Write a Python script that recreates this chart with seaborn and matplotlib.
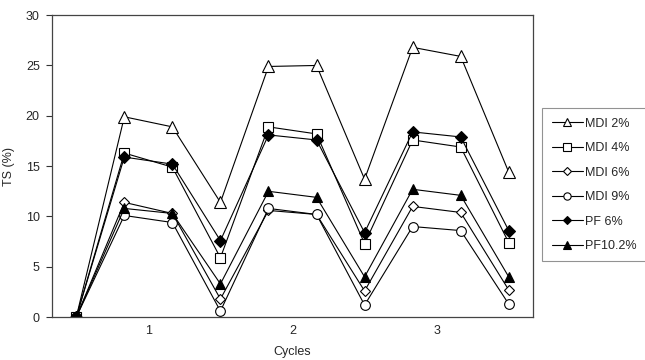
import pandas as pd
import numpy as np
import matplotlib.pyplot as plt
import seaborn as sns

# TS (%) after each step: start, then 3 readings per cycle
steps = [0, 1, 2, 3, 4, 5, 6, 7, 8, 9]
mdi_2 = [0, 19.9, 18.9, 11.4, 24.9, 25.0, 13.7, 26.8, 25.9, 14.4]
mdi_4 = [0, 16.3, 14.9, 5.9, 18.9, 18.2, 7.3, 17.6, 16.9, 7.4]
mdi_6 = [0, 11.4, 10.3, 1.8, 10.6, 10.2, 2.6, 11.0, 10.4, 2.7]
mdi_9 = [0, 10.1, 9.4, 0.6, 10.8, 10.2, 1.2, 9.0, 8.6, 1.3]
pf_6 = [0, 15.9, 15.2, 7.6, 18.1, 17.6, 8.4, 18.4, 17.9, 8.6]
pf_10 = [0, 10.8, 10.3, 3.3, 12.5, 11.9, 4.0, 12.7, 12.1, 4.0]
cycle_labels = ['1', '2', '3']

series = [
    ('MDI 2%', mdi_2, '^', 'white', 8),
    ('MDI 4%', mdi_4, 's', 'white', 7),
    ('MDI 6%', mdi_6, 'D', 'white', 5.5),
    ('MDI 9%', mdi_9, 'o', 'white', 7),
    ('PF 6%', pf_6, 'D', 'black', 6),
    ('PF10.2%', pf_10, '^', 'black', 7.5),
]

sns.set_style('white')
plt.rcParams['font.family'] = ['Liberation Sans', 'DejaVu Sans']

fig = plt.figure(figsize=(6.45, 3.6), dpi=100)
ax = fig.add_axes([0.081, 0.119, 0.745, 0.839])

for name, vals, mk, fc, ms in series:
    df = pd.DataFrame({'step': steps, 'TS': vals})
    sns.lineplot(data=df, x='step', y='TS', ax=ax, color='black', lw=0.8,
                 marker=mk, markersize=ms, markerfacecolor=fc,
                 markeredgecolor='black', markeredgewidth=0.8, label=name)

ax.set_xlim(-0.5, 9.5)
ax.set_ylim(0, 30)
ax.set_yticks(np.arange(0, 31, 5))
ax.set_xticks(np.arange(0.5, 9, 1), minor=True)
ax.set_xticks([1.5, 4.5, 7.5])
ax.set_xticklabels(cycle_labels)
ax.tick_params(axis='x', which='both', direction='in', length=4, width=0.8,
               color='#333333', labelsize=9, pad=6)
ax.tick_params(axis='y', direction='out', length=4, width=0.8,
               color='#333333', labelsize=9, left=True, pad=5)
for s in ax.spines.values():
    s.set_color('#444444')
    s.set_linewidth(0.9)

ax.set_xlabel('Cycles', fontsize=9, labelpad=6)
ax.set_ylabel('TS (%)', fontsize=9, labelpad=8)

leg = ax.legend(loc='upper left', bbox_to_anchor=(1.02, 0.692), fontsize=9,
                frameon=True, fancybox=False, edgecolor='#777777',
                handlelength=2.5, labelspacing=1.0, markerscale=0.75,
                borderpad=0.75, handletextpad=0.15, borderaxespad=0)
leg.get_frame().set_linewidth(0.8)

fig.savefig('out.png', dpi=100)
